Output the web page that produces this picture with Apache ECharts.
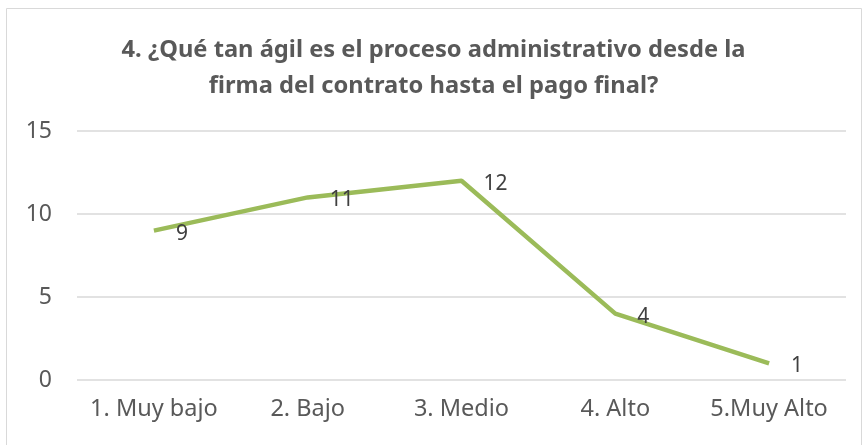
<!DOCTYPE html>
<html>
<head>
<meta charset="utf-8">
<script src="https://cdn.jsdelivr.net/npm/echarts@6/dist/echarts.min.js"></script>
<style>
  html, body { margin: 0; padding: 0; background: #fff; }
  #chart { width: 867px; height: 445px; }
</style>
</head>
<body>
<div id="chart"></div>
<script>
// datos de la pregunta 4
var categorias = ['1. Muy bajo', '2. Bajo', '3. Medio', '4. Alto', '5.Muy Alto'];
var respuestas = [9, 11, 12, 4, 1];
var titulo = '4. ¿Qué tan ágil es el proceso administrativo desde la\nfirma del contrato hasta el pago final?';

var chart = echarts.init(document.getElementById('chart'));
chart.setOption({
    animation: false,
    textStyle: { fontFamily: 'Noto Sans' },
    graphic: [{
        type: 'rect',
        shape: { x: 6.5, y: 8.5, width: 855, height: 445 },
        style: { fill: 'none', stroke: '#d9d9d9', lineWidth: 1 },
        silent: true
    }],
    title: {
        text: titulo,
        left: 'center',
        top: 27,
        textStyle: {
            fontSize: 23.7,
            fontWeight: 'bold',
            color: '#595959',
            lineHeight: 36
        }
    },
    grid: {
        left: 77,
        right: 21,
        top: 131,
        bottom: 65
    },
    xAxis: {
        type: 'category',
        data: categorias,
        boundaryGap: true,
        axisLine: { show: false },
        axisTick: { show: false },
        axisLabel: {
            interval: 0,
            margin: 17,
            fontSize: 23.5,
            color: '#595959'
        }
    },
    yAxis: {
        type: 'value',
        min: 0,
        max: 15,
        interval: 5,
        axisLine: { show: false },
        axisTick: { show: false },
        axisLabel: {
            margin: 25,
            fontSize: 23,
            color: '#595959'
        },
        splitLine: { lineStyle: { color: '#d9d9d9', width: 1.5 } }
    },
    series: [{
        type: 'line',
        data: respuestas,
        symbol: 'circle',
        symbolSize: 0,
        lineStyle: { color: '#9bbb59', width: 4.5 },
        itemStyle: { color: '#9bbb59' },
        label: {
            show: true,
            position: 'right',
            distance: 22,
            offset: [0, 3],
            fontSize: 21,
            color: '#404040'
        }
    }]
});
</script>
</body>
</html>
